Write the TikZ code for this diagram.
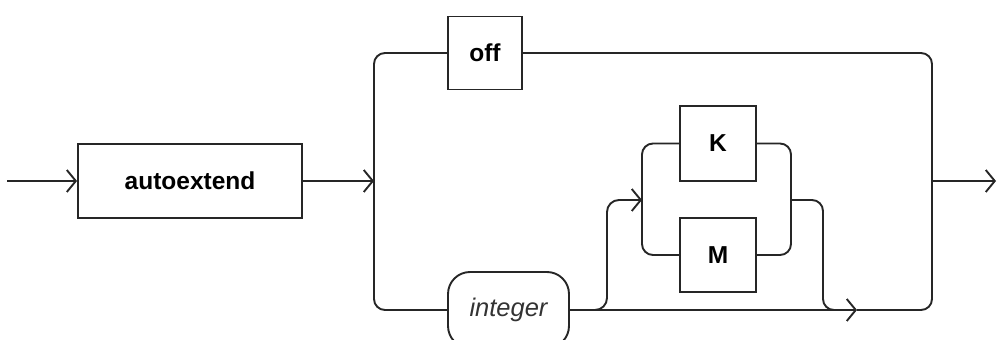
\documentclass[tikz,border=0pt]{standalone}
\usepackage{fontspec}
\setmainfont{Liberation Sans}
\usetikzlibrary{arrows.meta}
\begin{document}
\begin{tikzpicture}[x=1pt,y=-1pt,
  line width=1.9pt,
  color=black!85,
  tip/.style={-{Straight Barb[length=9pt,width=22pt,line width=1.9pt]}},
  kw/.style={draw,line width=1.9pt,rectangle,inner sep=0pt,text=black,font=\fontsize{24.5}{27}\selectfont\bfseries},
  nt/.style={draw,line width=1.9pt,rectangle,rounded corners=22pt,inner sep=0pt,text=black!80,font=\fontsize{25.5}{28}\selectfont\itshape},
  rc/.style={rounded corners=11pt}]
\clip (0,0) rectangle (997,340);
\useasboundingbox (0,0) rectangle (997,340);

\node[kw,minimum width=224pt,minimum height=74pt] (auto) at (190,181) {autoextend};
\node[kw,minimum width=74pt,minimum height=73pt] (off) at (485,53) {off};
\node[kw,minimum width=76pt,minimum height=75pt] (K) at (718,143.5) {K};
\node[kw,minimum width=76pt,minimum height=74pt] (M) at (718,255) {M};
\node[nt,minimum width=121pt,minimum height=76pt] (int) at (508.5,310) {integer};

\coordinate (start) at (7,181);
\coordinate (split) at (374,181);
\coordinate (join) at (932,181);
\coordinate (end) at (996,181);
\coordinate (kmin) at (642,200);
\coordinate (kmout) at (791,200);
\coordinate (barr) at (857,310);

\draw[tip] (start) -- (auto.west);
\draw[tip] (auto.east) -- (split);
\draw[rc] (off.west) -- (374,53) -- (374,310) -- (int.west);
\draw[rc] (off.east) -- (932,53) -- (932,310) -- (barr);
\draw[tip] (int.east) -- (barr);
\draw[tip,rounded corners=12pt] (590,310) -| (607,200) -- (kmin);
\draw[rc] (K.west) -| (642,255) -- (M.west);
\draw[rc] (K.east) -| (791,255) -- (M.east);
\draw[rc] (kmout) -| (823,310) -- (845,310);
\draw[tip] (join) -- (end);
\end{tikzpicture}
\end{document}
